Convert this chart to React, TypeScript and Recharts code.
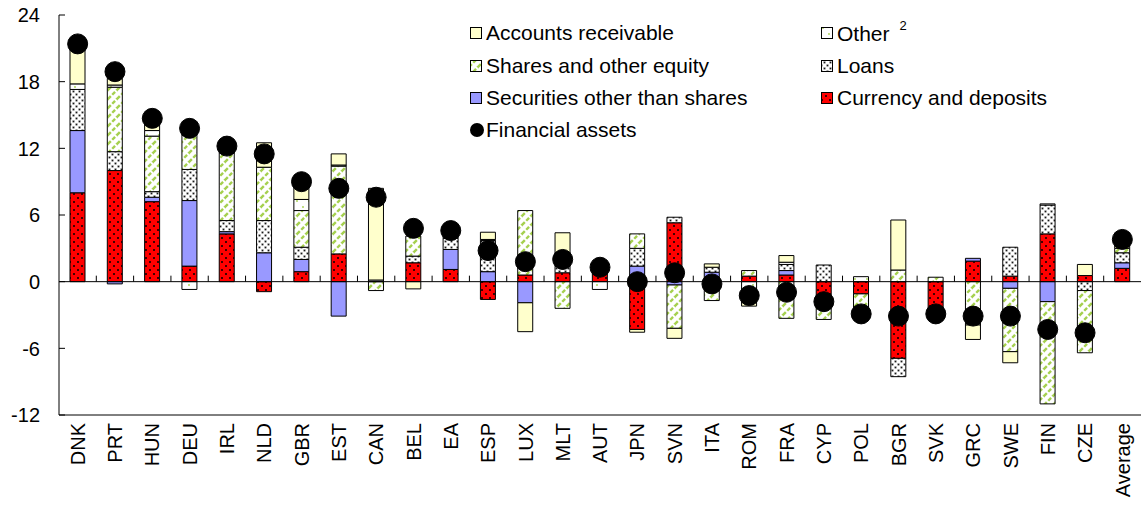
import { ComposedChart, Bar, Line, XAxis, YAxis, ReferenceLine, Legend } from 'recharts'

const countries = ['DNK', 'PRT', 'HUN', 'DEU', 'IRL', 'NLD', 'GBR', 'EST', 'CAN', 'BEL', 'EA', 'ESP', 'LUX', 'MLT', 'AUT', 'JPN', 'SVN', 'ITA', 'ROM', 'FRA', 'CYP', 'POL', 'BGR', 'SVK', 'GRC', 'SWE', 'FIN', 'CZE', 'Average']
const currency = [8.0, 10.0, 7.2, 1.4, 4.3, -0.9, 0.9, 2.5, null, 1.7, 1.1, -1.6, 0.6, 0.8, 0.8, -4.3, 5.3, null, 0.5, 0.6, -1.4, -1.1, -6.9, -2.7, 1.85, 0.5, 4.3, 0.55, 1.2]
const securities = [5.6, -0.2, 0.4, 5.9, 0.2, 2.6, 1.1, -3.1, null, null, 1.8, 0.9, -1.9, null, null, 1.4, -0.3, 0.85, null, 0.4, null, null, null, null, 0.25, -0.6, -1.8, null, 0.5]
const loans = [3.7, 1.7, 0.5, 2.8, 1.0, 2.9, 1.1, null, null, 0.6, 1.0, 2.8, null, 0.6, null, 1.6, 0.5, 0.45, null, 0.55, 1.5, null, -1.65, null, null, 2.6, 2.6, -0.8, 0.9]
const shares = [null, 5.8, 5.0, 3.1, 6.1, 4.8, 3.3, 7.9, -0.8, 1.8, 0.6, 0.1, 5.8, -2.4, 0.4, 1.3, -3.9, -1.7, 0.5, -3.3, -2.0, -1.8, 1.05, 0.4, -3.9, -5.7, -9.2, -5.6, 0.4]
const other = [0.5, 0.2, 0.5, -0.7, null, null, 1.0, 0.1, 0.15, null, null, null, null, null, -0.7, null, null, null, -1.5, 0.2, null, 0.45, null, null, null, null, 0.1, null, null]
const accounts = [3.2, 0.6, 0.7, 0.3, 0.1, 2.2, 1.2, 1.0, 8.25, -0.65, null, 0.65, -2.6, 3.0, 0.3, -0.25, -0.9, 0.3, -0.7, 0.6, null, null, 4.5, null, -1.3, -1.0, null, 1.0, 0.3]
const financialAssets = [21.4, 18.9, 14.7, 13.8, 12.2, 11.5, 9.0, 8.4, 7.6, 4.8, 4.6, 2.8, 1.8, 2.0, 1.3, 0.0, 0.8, -0.2, -1.25, -0.95, -1.8, -2.9, -3.1, -2.9, -3.1, -3.1, -4.3, -4.6, 3.8]
const yTicks = [-12, -6, 0, 6, 12, 18, 24]

const data = countries.map((name, i) => ({
  name,
  currency: currency[i],
  securities: securities[i],
  loans: loans[i],
  shares: shares[i],
  other: other[i],
  accounts: accounts[i],
  fa: financialAssets[i],
}))

const FONT = '"Liberation Sans", Arial, sans-serif'

const legendItems = [
  { label: 'Accounts receivable', fill: '#FFFFCC' },
  { label: 'Other', sup: '2', fill: 'url(#pOther)' },
  { label: 'Shares and other equity', fill: 'url(#pShares)' },
  { label: 'Loans', fill: 'url(#pLoans)' },
  { label: 'Securities other than shares', fill: '#9999FF' },
  { label: 'Currency and deposits', fill: 'url(#pCurrency)' },
  { label: 'Financial assets', dot: true },
]

function renderLegend() {
  return (
    <div style={{ display: 'grid', gridTemplateColumns: '351px auto', fontFamily: FONT, fontSize: 21, color: '#000' }}>
      {legendItems.map((it) => (
        <div key={it.label} style={{ height: 32.4, display: 'flex', alignItems: 'center' }}>
          <svg width={16} height={16} style={{ marginRight: 1 }}>
            {it.dot ? (
              <circle cx={8} cy={8} r={7} fill="#000" />
            ) : (
              <rect x={1.5} y={2.5} width={11} height={11} fill={it.fill} stroke="#000" strokeWidth={1} />
            )}
          </svg>
          <span>
            {it.label}
            {it.sup && <sup style={{ fontSize: 13, marginLeft: 10, position: 'relative', top: -3 }}>{it.sup}</sup>}
          </span>
        </div>
      ))}
    </div>
  )
}

const YTick = (props: any) => {
  const { x, y, payload } = props
  const axisX = x + 19
  return (
    <g>
      <text x={x} y={y} dy="0.36em" textAnchor="end" fontSize={20} fontFamily={FONT} fill="#000">
        {payload.value}
      </text>
      <line x1={axisX} x2={axisX + 6} y1={y} y2={y} stroke="#000" />
    </g>
  )
}

const XTick = (props: any) => {
  const { x, y, payload } = props
  return (
    <text x={x} y={y} dy="0.36em" textAnchor="end" fontSize={20} fontFamily={FONT} fill="#000" transform={`rotate(-90, ${x}, ${y})`}>
      {payload.value}
    </text>
  )
}

// zero line with small category separators pointing up
const ZeroLine = (props: any) => {
  const { x1, y1, x2 } = props
  const step = (x2 - x1) / countries.length
  return (
    <g>
      <line x1={x1} x2={x2} y1={y1} y2={y1} stroke="#000" strokeWidth={1} />
      {countries.slice(1).map((c, i) => (
        <line key={c} x1={x1 + step * (i + 1)} x2={x1 + step * (i + 1)} y1={y1} y2={y1 - 6} stroke="#000" />
      ))}
    </g>
  )
}

const barCommon = { stackId: 's', barSize: 15, stroke: '#000', strokeWidth: 1, isAnimationActive: false }

export default function App() {
  return (
    <div style={{ position: 'absolute', left: 0, top: 0, width: 1143, height: 506, background: '#fff' }}>
      <ComposedChart width={1143} height={506} data={data} stackOffset="sign" margin={{ top: 15, right: 2, left: 0, bottom: 0 }}>
        <defs>
          <pattern id="pCurrency" width={8} height={8} patternUnits="userSpaceOnUse">
            <rect width={8} height={8} fill="#FF0000" />
            <circle cx={2} cy={2} r={1} fill="#000" />
            <circle cx={6} cy={6} r={1} fill="#000" />
          </pattern>
          <pattern id="pLoans" width={6} height={6} patternUnits="userSpaceOnUse">
            <rect width={6} height={6} fill="#fff" />
            <circle cx={1.5} cy={1.5} r={1.4} fill="#9a9a9a" />
            <circle cx={4.5} cy={4.5} r={1.4} fill="#9a9a9a" />
            <circle cx={1.5} cy={1.5} r={0.6} fill="#000" />
            <circle cx={4.5} cy={4.5} r={0.6} fill="#000" />
          </pattern>
          <pattern id="pShares" width={9} height={9} patternUnits="userSpaceOnUse">
            <rect width={9} height={9} fill="#fff" />
            <path d="M0,9 L9,0 M-2,2 L2,-2 M7,11 L11,7" stroke="#A5D04E" strokeWidth={2.4} strokeDasharray="4 2" />
          </pattern>
          <pattern id="pOther" width={12} height={12} patternUnits="userSpaceOnUse">
            <rect width={12} height={12} fill="#fff" />
            <circle cx={3} cy={3} r={0.9} fill="#A5D04E" />
            <circle cx={9} cy={9} r={0.9} fill="#A5D04E" />
          </pattern>
        </defs>
        <XAxis dataKey="name" interval={0} tickLine={false} tickSize={0} tickMargin={8} height={91} axisLine={{ stroke: '#000' }} tick={<XTick />} />
        <XAxis xAxisId="top" orientation="top" dataKey="name" tick={false} tickLine={false} height={0} axisLine={{ stroke: '#000' }} />
        <YAxis domain={[-12, 24]} ticks={yTicks} interval={0} width={59} tickLine={false} tickSize={0} tickMargin={19} axisLine={{ stroke: '#000' }} tick={<YTick />} />
        <YAxis yAxisId="right" orientation="right" domain={[-12, 24]} ticks={yTicks} width={0} tick={false} tickLine={false} axisLine={{ stroke: '#000' }} />
        <ReferenceLine y={0} shape={<ZeroLine />} />
        <Bar dataKey="currency" fill="url(#pCurrency)" {...barCommon} />
        <Bar dataKey="securities" fill="#9999FF" {...barCommon} />
        <Bar dataKey="loans" fill="url(#pLoans)" {...barCommon} />
        <Bar dataKey="shares" fill="url(#pShares)" {...barCommon} />
        <Bar dataKey="other" fill="url(#pOther)" {...barCommon} />
        <Bar dataKey="accounts" fill="#FFFFCC" {...barCommon} />
        <Line dataKey="fa" stroke="none" dot={{ r: 10, fill: '#000', stroke: '#000' }} activeDot={false} isAnimationActive={false} />
        <Legend layout="horizontal" verticalAlign="middle" align="center" content={renderLegend} wrapperStyle={{ left: 469, top: 17, width: 640, height: 130 }} />
      </ComposedChart>
    </div>
  )
}
